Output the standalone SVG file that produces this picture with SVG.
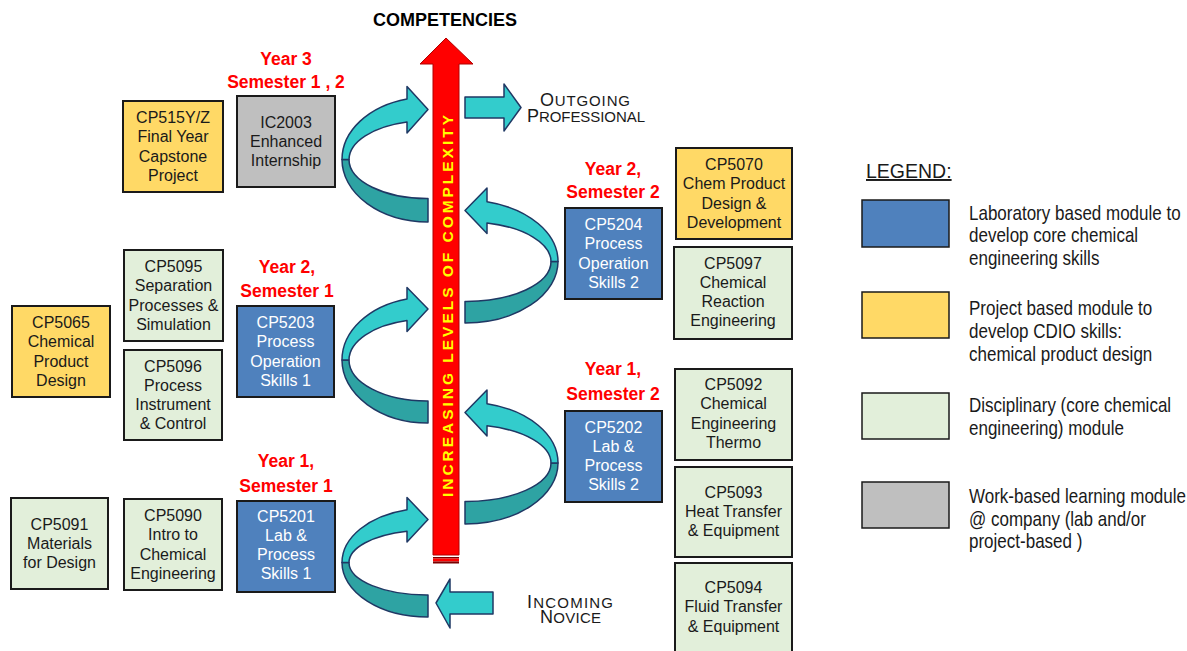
<svg xmlns="http://www.w3.org/2000/svg" width="1187" height="651" viewBox="0 0 1187 651">
<style>
.box{stroke:#1a1a1a;stroke-width:2}
.blue{fill:#4F81BD}
.yel{fill:#FFD966}
.grn{fill:#E2EFDA}
.gry{fill:#BFBFBF}
.bt{font-family:"Liberation Sans",Arial,sans-serif;font-size:16px;text-anchor:middle;fill:#1a1a1a}
.wt{fill:#ffffff}
.yr{font-family:"Liberation Sans",Arial,sans-serif;font-size:17.5px;font-weight:bold;fill:#FF0000;text-anchor:middle}
.lt{fill:#33CCCC;stroke:#1F3864;stroke-width:1.5;stroke-linejoin:round}
.dk{fill:#2EA3A3;stroke:#1F3864;stroke-width:1.5;stroke-linejoin:round}
.sc{font-family:"Liberation Sans",Arial,sans-serif;fill:#1a1a1a}
.big{font-size:18px}
.sm{font-size:15px}
.lg{font-family:"Liberation Sans",Arial,sans-serif;font-size:21px;fill:#1a1a1a}
.lbox{stroke:#1a1a1a;stroke-width:1.5}
</style>

<!-- Title -->
<text x="445" y="26" font-family="Liberation Sans, Arial, sans-serif" font-size="18" font-weight="bold" text-anchor="middle" fill="#000">COMPETENCIES</text>

<g id="connectors">
  <!-- central red arrow -->
  <g id="complexity-arrow">
    <path d="M433,555 L433,64 L420,64 L446,38 L473,64 L459,64 L459,555 Z" fill="#FF0000" stroke="#B00000" stroke-width="1"/>
    <rect x="433" y="557" width="26" height="1.5" fill="#7A0000"/>
    <rect x="433" y="558.5" width="26" height="3" fill="#FF0000"/>
    <rect x="433" y="561.5" width="26" height="2" fill="#7A0000"/>
    <text transform="translate(453,306) rotate(-90)" text-anchor="middle" font-family="Liberation Sans, Arial, sans-serif" font-size="15.5" font-weight="bold" fill="#FFFF00" textLength="382" lengthAdjust="spacing">INCREASING LEVELS OF COMPLEXITY</text>
  </g>

  <!-- left spiral (top, Year 3) -->
  <g id="spiral-y3">
    <path class="dk" d="M342,159.5 A86,62.5 0 0 0 428,222 L428,198.5 A78,39 0 0 1 349,159.5 Z"/>
    <path class="lt" d="M407,98.9 A86,62.5 0 0 0 342,159.5 L349,159.5 A78,39 0 0 1 407,121.9 L407,133 L428,109.5 L407,86.5 Z"/>
  </g>
  <!-- left spiral (Year 2 sem 1) -->
  <g id="spiral-y2s1">
    <path class="dk" d="M342,360 A86,63 0 0 0 428,423 L428,401 A78,41 0 0 1 349,360 Z"/>
    <path class="lt" d="M407,298.9 A86,63 0 0 0 342,360 L349,360 A78,41 0 0 1 407,320.5 L407,331.5 L428,309 L407,287.5 Z"/>
  </g>
  <!-- left spiral (Year 1 sem 1) -->
  <g id="spiral-y1s1">
    <path class="dk" d="M342,562.5 A86,54.5 0 0 0 428,617 L428,595 A78,32.5 0 0 1 349,562.5 Z"/>
    <path class="lt" d="M407,509.7 A86,54.5 0 0 0 342,562.5 L349,562.5 A78,32.5 0 0 1 407,531.2 L407,542 L428,519.5 L407,497.5 Z"/>
  </g>
  <!-- right spiral (Year 2 sem 2) -->
  <g id="spiral-y2s2">
    <path class="dk" d="M558,261.5 A93,61.5 0 0 1 465,323 L465,301.5 A85,40 0 0 0 551,261.5 Z"/>
    <path class="lt" d="M487,201.8 A93,61.5 0 0 1 558,261.5 L551,261.5 A85,40 0 0 0 487,222.9 L487,233.5 L465,210.5 L487,188 Z"/>
  </g>
  <!-- right spiral (Year 1 sem 2) -->
  <g id="spiral-y1s2">
    <path class="dk" d="M558,463 A93,61 0 0 1 465,524 L465,501.5 A85,38.5 0 0 0 551,463 Z"/>
    <path class="lt" d="M487,403.7 A93,61 0 0 1 558,463 L551,463 A85,38.5 0 0 0 487,425.8 L487,436 L465,412.5 L487,390 Z"/>
  </g>
  <!-- outgoing arrow -->
  <path id="arrow-out" class="lt" d="M465,97 L504,97 L504,84 L521,107.5 L504,131 L504,118 L465,118 Z"/>
  <!-- incoming arrow -->
  <path id="arrow-in" class="lt" d="M493,592 L450,592 L450,579 L436,603 L450,628 L450,614 L493,614 Z"/>
</g>

<!-- Outgoing / Incoming labels -->
<g id="label-outgoing" class="sc">
  <text x="540" y="106" textLength="90" lengthAdjust="spacing"><tspan class="big">O</tspan><tspan class="sm">UTGOING</tspan></text>
  <text x="527" y="122" textLength="118" lengthAdjust="spacing"><tspan class="big">P</tspan><tspan class="sm">ROFESSIONAL</tspan></text>
</g>
<g id="label-incoming" class="sc">
  <text x="527" y="608" textLength="86" lengthAdjust="spacing"><tspan class="big">I</tspan><tspan class="sm">NCOMING</tspan></text>
  <text x="540" y="623" textLength="61" lengthAdjust="spacing"><tspan class="big">N</tspan><tspan class="sm">OVICE</tspan></text>
</g>

<!-- Year labels -->
<g id="year-labels">
  <text class="yr" x="286" y="65">Year 3</text>
  <text class="yr" x="286" y="88">Semester 1 , 2</text>
  <text class="yr" x="287" y="273">Year 2,</text>
  <text class="yr" x="287" y="297">Semester 1</text>
  <text class="yr" x="286" y="467">Year 1,</text>
  <text class="yr" x="286" y="492">Semester 1</text>
  <text class="yr" x="613" y="175">Year 2,</text>
  <text class="yr" x="613" y="198">Semester 2</text>
  <text class="yr" x="613" y="375">Year 1,</text>
  <text class="yr" x="613" y="400">Semester 2</text>
</g>

<!-- Nodes -->
<g id="CP515YZ"><rect class="box yel" x="123" y="101" width="100" height="91"/>
  <text class="bt" x="173" y="123">CP515Y/Z<tspan x="173" dy="19.3">Final Year</tspan><tspan x="173" dy="19.3">Capstone</tspan><tspan x="173" dy="19.3">Project</tspan></text></g>
<g id="IC2003"><rect class="box gry" x="237" y="96" width="98" height="91"/>
  <text class="bt" x="286" y="127.5" fill="#262626">IC2003<tspan x="286" dy="19.3">Enhanced</tspan><tspan x="286" dy="19.3">Internship</tspan></text></g>
<g id="CP5065"><rect class="box yel" x="12" y="306" width="98" height="91"/>
  <text class="bt" x="61" y="328">CP5065<tspan x="61" dy="19.3">Chemical</tspan><tspan x="61" dy="19.3">Product</tspan><tspan x="61" dy="19.3">Design</tspan></text></g>
<g id="CP5095"><rect class="box grn" x="124" y="250" width="99" height="91"/>
  <text class="bt" x="173.5" y="272">CP5095<tspan x="173.5" dy="19.3">Separation</tspan><tspan x="173.5" dy="19.3">Processes &amp;</tspan><tspan x="173.5" dy="19.3">Simulation</tspan></text></g>
<g id="CP5096"><rect class="box grn" x="124" y="350" width="98" height="90"/>
  <text class="bt" x="173" y="371.5">CP5096<tspan x="173" dy="19.3">Process</tspan><tspan x="173" dy="19.3">Instrument</tspan><tspan x="173" dy="19.3">&amp; Control</tspan></text></g>
<g id="CP5203"><rect class="box blue" x="237" y="306" width="97" height="91"/>
  <text class="bt wt" x="285.5" y="328">CP5203<tspan x="285.5" dy="19.3">Process</tspan><tspan x="285.5" dy="19.3">Operation</tspan><tspan x="285.5" dy="19.3">Skills 1</tspan></text></g>
<g id="CP5091"><rect class="box grn" x="11" y="498" width="97" height="91"/>
  <text class="bt" x="59.5" y="529.5">CP5091<tspan x="59.5" dy="19.3">Materials</tspan><tspan x="59.5" dy="19.3">for Design</tspan></text></g>
<g id="CP5090"><rect class="box grn" x="124" y="499" width="98" height="91"/>
  <text class="bt" x="173" y="521">CP5090<tspan x="173" dy="19.3">Intro to</tspan><tspan x="173" dy="19.3">Chemical</tspan><tspan x="173" dy="19.3">Engineering</tspan></text></g>
<g id="CP5201"><rect class="box blue" x="237" y="501" width="98" height="91"/>
  <text class="bt wt" x="286" y="521.5">CP5201<tspan x="286" dy="19.3">Lab &amp;</tspan><tspan x="286" dy="19.3">Process</tspan><tspan x="286" dy="19.3">Skills 1</tspan></text></g>
<g id="CP5204"><rect class="box blue" x="565" y="208" width="97" height="91"/>
  <text class="bt wt" x="613.5" y="230">CP5204<tspan x="613.5" dy="19.3">Process</tspan><tspan x="613.5" dy="19.3">Operation</tspan><tspan x="613.5" dy="19.3">Skills 2</tspan></text></g>
<g id="CP5070"><rect class="box yel" x="676" y="148" width="116" height="91"/>
  <text class="bt" x="734" y="170">CP5070<tspan x="734" dy="19.3">Chem Product</tspan><tspan x="734" dy="19.3">Design &amp;</tspan><tspan x="734" dy="19.3">Development</tspan></text></g>
<g id="CP5097"><rect class="box grn" x="674" y="247" width="118" height="92"/>
  <text class="bt" x="733" y="268.5">CP5097<tspan x="733" dy="19.3">Chemical</tspan><tspan x="733" dy="19.3">Reaction</tspan><tspan x="733" dy="19.3">Engineering</tspan></text></g>
<g id="CP5202"><rect class="box blue" x="565" y="411" width="97" height="91"/>
  <text class="bt wt" x="613.5" y="432.5">CP5202<tspan x="613.5" dy="19.3">Lab &amp;</tspan><tspan x="613.5" dy="19.3">Process</tspan><tspan x="613.5" dy="19.3">Skills 2</tspan></text></g>
<g id="CP5092"><rect class="box grn" x="675" y="369" width="117" height="91"/>
  <text class="bt" x="733.5" y="390">CP5092<tspan x="733.5" dy="19.3">Chemical</tspan><tspan x="733.5" dy="19.3">Engineering</tspan><tspan x="733.5" dy="19.3">Thermo</tspan></text></g>
<g id="CP5093"><rect class="box grn" x="675" y="467" width="117" height="90"/>
  <text class="bt" x="733.5" y="497.5">CP5093<tspan x="733.5" dy="19.3">Heat Transfer</tspan><tspan x="733.5" dy="19.3">&amp; Equipment</tspan></text></g>
<g id="CP5094"><rect class="box grn" x="675" y="563" width="117" height="90"/>
  <text class="bt" x="733.5" y="593">CP5094<tspan x="733.5" dy="19.3">Fluid Transfer</tspan><tspan x="733.5" dy="19.3">&amp; Equipment</tspan></text></g>

<!-- Legend -->
<g id="legend">
  <text x="866" y="178" font-family="Liberation Sans, Arial, sans-serif" font-size="19.5" fill="#1a1a1a" text-decoration="underline">LEGEND:</text>
  <rect class="lbox blue" x="862" y="200" width="87" height="47"/>
  <rect class="lbox yel" x="862" y="292" width="87" height="46"/>
  <rect class="lbox grn" x="862" y="393" width="87" height="46"/>
  <rect class="lbox gry" x="862" y="482" width="87" height="46"/>
  <g transform="translate(969,0) scale(0.81,1)">
    <text class="lg" x="0" y="220">Laboratory based module to</text>
    <text class="lg" x="0" y="242.5">develop core chemical</text>
    <text class="lg" x="0" y="265">engineering skills</text>
    <text class="lg" x="0" y="315">Project based module to</text>
    <text class="lg" x="0" y="338">develop CDIO skills:</text>
    <text class="lg" x="0" y="361">chemical product design</text>
    <text class="lg" x="0" y="412">Disciplinary (core chemical</text>
    <text class="lg" x="0" y="435">engineering) module</text>
    <text class="lg" x="0" y="503">Work-based learning module</text>
    <text class="lg" x="0" y="526">@ company (lab and/or</text>
    <text class="lg" x="0" y="548.5">project-based )</text>
  </g>
</g>
</svg>
